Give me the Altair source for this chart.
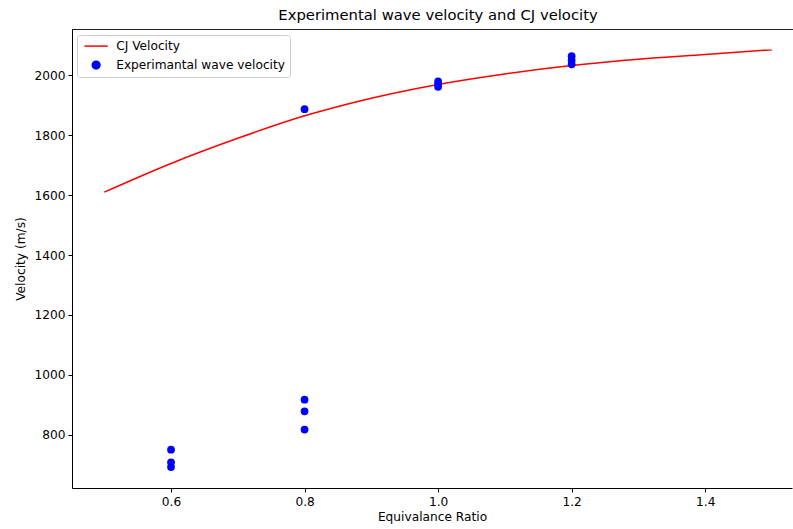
import altair as alt
import pandas as pd

# CJ velocity curve vs equivalence ratio
cj_phi = [0.5, 0.6, 0.7, 0.8, 0.9, 1.0, 1.1, 1.2, 1.3, 1.4, 1.5]
cj_vel = [1610, 1706, 1790, 1865, 1924, 1970, 2005, 2033, 2054, 2070, 2086]

# Measured wave velocities
exp_phi = [0.6, 0.6, 0.6, 0.8, 0.8, 0.8, 0.8, 1.0, 1.0, 1.0, 1.2, 1.2, 1.2]
exp_vel = [750, 708, 692, 817, 878, 917, 1887, 1980, 1970, 1962, 2064, 2050, 2037]

SERIES = ["CJ Velocity", "Experimantal wave velocity"]

cj = pd.DataFrame({"phi": cj_phi, "vel": cj_vel, "series": SERIES[0]})
ex = pd.DataFrame({"phi": exp_phi, "vel": exp_vel, "series": SERIES[1]})

FONT = "DejaVu Sans"
FS = 12.2

x_scale = alt.Scale(domain=[0.4517, 1.53], nice=False, zero=False)
y_scale = alt.Scale(domain=[622, 2155], nice=False, zero=False)

color = alt.Color(
    "series:N",
    scale=alt.Scale(domain=SERIES, range=["red", "blue"]),
    legend=alt.Legend(
        title=None,
        orient="none",
        legendX=5,
        legendY=6,
        strokeColor="#cccccc",
        fillColor="white",
        cornerRadius=3,
        padding=5,
        labelFontSize=FS,
        labelFont=FONT,
        labelColor="black",
        labelLimit=400,
        labelOffset=14,
        symbolOffset=8,
        symbolSize=60,
        symbolStrokeWidth=1.5,
        rowPadding=5,
    ),
)
# a wide horizontal dash for the curve, a dot for the measurements
shape = alt.Shape(
    "series:N",
    scale=alt.Scale(domain=SERIES, range=["M-3,0L3,0", "circle"]),
)

x_axis = alt.Axis(
    title="Equivalance Ratio",
    values=[0.6, 0.8, 1.0, 1.2, 1.4],
    format=".1f",
    grid=False,
    domainColor="black",
    tickColor="black",
    tickSize=4,
    labelFontSize=FS,
    titleFontSize=FS,
    titleFontWeight="normal",
    labelPadding=3,
    titlePadding=3,
)
y_axis = alt.Axis(
    title="Velocity (m/s)",
    values=[800, 1000, 1200, 1400, 1600, 1800, 2000],
    format="d",
    grid=False,
    domainColor="black",
    tickColor="black",
    tickSize=4,
    labelFontSize=FS,
    titleFontSize=FS,
    titleFontWeight="normal",
    labelPadding=3,
    titlePadding=6,
)

line = (
    alt.Chart(cj)
    .mark_line(strokeWidth=1.5, interpolate="monotone")
    .encode(
        x=alt.X("phi:Q", scale=x_scale, axis=x_axis),
        y=alt.Y("vel:Q", scale=y_scale, axis=y_axis),
        color=color,
        shape=shape,
    )
)

pts = (
    alt.Chart(ex)
    .mark_point(filled=True, size=60, opacity=1)
    .encode(
        x=alt.X("phi:Q", scale=x_scale),
        y=alt.Y("vel:Q", scale=y_scale),
        color=color,
        shape=shape,
    )
)

# upper spine of the plot frame
top = (
    alt.Chart(cj)
    .mark_rule(color="#222222", strokeWidth=1)
    .encode(x=alt.value(0), x2=alt.value(721), y=alt.value(0.5))
)

chart = (
    alt.layer(line, pts, top)
    .properties(
        width=720,
        height=459,
        title=alt.TitleParams(
            "Experimental wave velocity and CJ velocity",
            fontSize=14.8,
            fontWeight="normal",
            font=FONT,
            color="black",
            anchor="middle",
            offset=6,
            dx=6,
        ),
        autosize=alt.AutoSizeParams(type="none"),
        padding={"left": 72, "top": 29, "right": 1, "bottom": 41},
    )
    .configure_view(stroke=None)
    .configure_axis(labelFont=FONT, titleFont=FONT, labelColor="black", titleColor="black")
)

chart.save("out.html", embed_options={"renderer": "svg", "actions": False})
